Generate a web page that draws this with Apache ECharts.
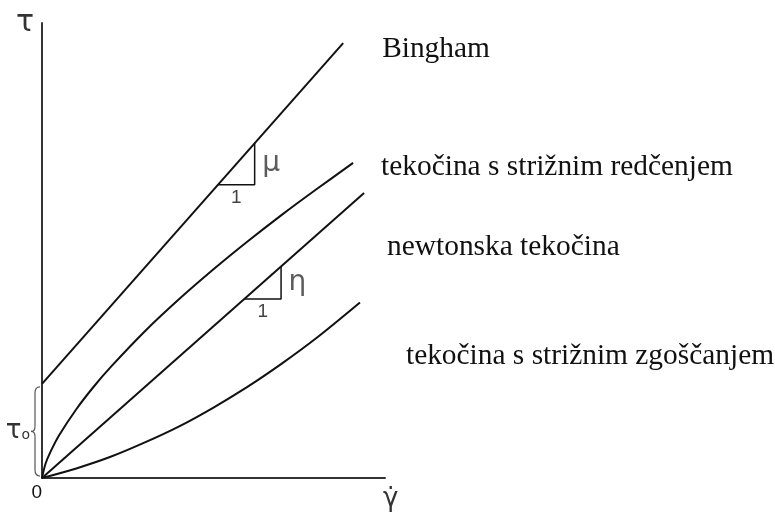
<!DOCTYPE html>
<html>
<head>
<meta charset="utf-8">
<script src="https://cdn.jsdelivr.net/npm/echarts@6/dist/echarts.min.js"></script>
<style>
  html, body { margin: 0; padding: 0; background: #fff; }
  #chart { width: 775px; height: 512px; }
</style>
</head>
<body>
<div id="chart"></div>
<script>
// Flow curves: shear stress tau against shear rate (gamma dot), arbitrary units
const seriesNames = [
  'Bingham',
  'tekočina s strižnim redčenjem',
  'newtonska tekočina',
  'tekočina s strižnim zgoščanjem'
];

// Bingham plastic: yield stress tau0 then straight line
const bingham = [[0, 2.75], [8.78, 12.71]];

// shear-thinning fluid (concave curve through the origin)
const shearThinning = [
  [0, 0], [0.1, 0.41], [0.25, 0.77], [0.5, 1.25], [1, 2.01], [1.5, 2.66],
  [2, 3.24], [3, 4.29], [4, 5.23], [5, 6.10], [6, 6.92], [7, 7.70],
  [8, 8.44], [9.07, 9.21]
];

// Newtonian fluid: straight line through the origin
const newtonian = [[0, 0], [9.39, 8.33]];

// shear-thickening fluid (convex curve through the origin)
const shearThickening = [
  [0, 0], [1, 0.28], [2, 0.62], [3, 1.04], [4, 1.51], [5, 2.06],
  [6, 2.67], [7, 3.35], [8, 4.09], [9.27, 5.13]
];

// unit-slope triangles: [x start, x end] along the Bingham and Newtonian lines
const muSpan = [5.13, 6.2];
const etaSpan = [5.9, 6.97];

// offsets of the curve names from the end of each curve
const nameOffsets = [[39, 6], [28, 4], [23, 54], [46, 54]];

const axisMax = { x: 10, y: 13.3 };

function valueOn(line, x) {
  for (let i = 1; i < line.length; i++) {
    const a = line[i - 1], b = line[i];
    if (x <= b[0]) return a[1] + (b[1] - a[1]) * (x - a[0]) / (b[0] - a[0]);
  }
  return line[line.length - 1][1];
}

// triangle legs (horizontal run of 1, vertical rise of the slope)
function triangle(line, span) {
  const [x0, x1] = span;
  const y0 = valueOn(line, x0), y1 = valueOn(line, x1);
  return [[x0, y0], [x1, y0], [x1, y1]];
}

// text markers at the middle of each triangle leg
function triangleLabels(line, span, symbolText) {
  const [x0, x1] = span;
  const y0 = valueOn(line, x0), y1 = valueOn(line, x1);
  return [
    { value: [(x0 + x1) / 2, y0], label: { position: 'bottom', distance: 3, formatter: '1',
      fontFamily: 'Liberation Sans', fontSize: 19, color: '#111' } },
    { value: [x1, (y0 + y1) / 2], label: { position: 'right', distance: 7, formatter: symbolText,
      fontFamily: 'DejaVu Sans', fontSize: 28, color: '#333' } }
  ];
}

const chart = echarts.init(document.getElementById('chart'), null, { renderer: 'canvas' });

const curveStyle = { color: '#111', width: 2 };
const labelFont = { fontFamily: 'Liberation Serif', fontSize: 29.4, color: '#111' };

function curve(name, data, idx, smooth) {
  return {
    name, type: 'line', data, smooth: smooth, symbol: 'none', silent: true,
    lineStyle: curveStyle, itemStyle: { color: '#111' },
    endLabel: Object.assign({ show: true, formatter: name, distance: 0,
      offset: nameOffsets[idx], align: 'left', verticalAlign: 'middle' }, labelFont)
  };
}

function triangleSeries(data) {
  return { type: 'line', data, symbol: 'none', silent: true,
    lineStyle: { color: '#111', width: 1.5 } };
}

function markerSeries(data) {
  return { type: 'scatter', data, symbolSize: 1, silent: true,
    itemStyle: { color: 'rgba(0,0,0,0)' },
    label: { show: true } };
}

chart.setOption({
  animation: false,
  backgroundColor: '#fff',
  grid: { left: 42, right: 775 - 385, top: 23, bottom: 33, containLabel: false },
  xAxis: {
    type: 'value', min: 0, max: axisMax.x, interval: axisMax.x,
    name: 'γ̇', nameLocation: 'end', nameGap: 0,
    nameTextStyle: { fontFamily: 'DejaVu Sans', fontSize: 26, color: '#333',
      align: 'left', verticalAlign: 'top', padding: [8, 0, 0, -2] },
    axisLine: { show: true, lineStyle: { color: '#333', width: 2 } },
    axisTick: { show: false },
    splitLine: { show: false },
    axisLabel: { show: true, formatter: v => (v === 0 ? '0' : ''), align: 'right', margin: 5,
      fontFamily: 'Liberation Sans', fontSize: 19, color: '#111' }
  },
  yAxis: {
    type: 'value', min: 0, max: axisMax.y,
    name: 'τ', nameLocation: 'end', nameGap: 0,
    nameTextStyle: { fontFamily: 'DejaVu Sans', fontSize: 30, color: '#333',
      align: 'right', verticalAlign: 'middle', padding: [0, 8, -4, 0] },
    axisLine: { show: true, lineStyle: { color: '#333', width: 2 } },
    axisTick: { show: false },
    splitLine: { show: false },
    axisLabel: { show: false }
  },
  series: [
    curve(seriesNames[0], bingham, 0, false),
    curve(seriesNames[1], shearThinning, 1, 0.3),
    curve(seriesNames[2], newtonian, 2, false),
    curve(seriesNames[3], shearThickening, 3, 0.3),
    triangleSeries(triangle(bingham, muSpan)),
    triangleSeries(triangle(newtonian, etaSpan)),
    markerSeries(triangleLabels(bingham, muSpan, 'μ')),
    markerSeries(triangleLabels(newtonian, etaSpan, 'η'))
  ]
});

// brace marking the yield stress tau0 next to the stress axis
const yieldPx = chart.convertToPixel({ gridIndex: 0 }, [0, bingham[0][1]]);
const originPx = chart.convertToPixel({ gridIndex: 0 }, [0, 0]);
const bx = yieldPx[0] - 2, bt = yieldPx[1] + 3, bb = originPx[1] - 2, bm = (bt + bb) / 2;
const braceStyle = { fill: null, stroke: '#555', lineWidth: 1.2 };
const hook = (x1, y1, cx, cy, x2, y2) => ({
  type: 'bezierCurve', silent: true,
  shape: { x1, y1, x2, y2, cpx1: cx, cpy1: cy }, style: braceStyle
});
const bar = (y1, y2) => ({
  type: 'line', silent: true,
  shape: { x1: bx - 5, y1, x2: bx - 5, y2 }, style: braceStyle
});

chart.setOption({
  graphic: [
    hook(bx, bt, bx - 5, bt, bx - 5, bt + 6),
    bar(bt + 6, bm - 5),
    hook(bx - 5, bm - 5, bx - 5, bm, bx - 9, bm),
    hook(bx - 9, bm, bx - 5, bm, bx - 5, bm + 5),
    bar(bm + 5, bb - 6),
    hook(bx - 5, bb - 6, bx - 5, bb, bx, bb),
    {
      type: 'text', silent: true,
      x: bx - 10, y: bm,
      style: {
        text: '{t|τ}{s|o}', align: 'right', verticalAlign: 'middle',
        rich: {
          t: { fontFamily: 'DejaVu Sans', fontSize: 26, fill: '#333' },
          s: { fontFamily: 'DejaVu Sans', fontSize: 14, fill: '#333', padding: [8, 0, 0, 0] }
        }
      }
    }
  ]
});
</script>
</body>
</html>
